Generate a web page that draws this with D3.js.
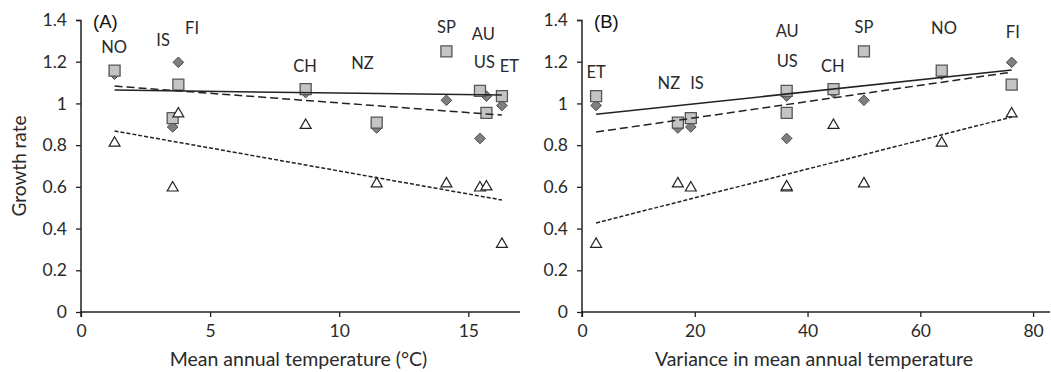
<!DOCTYPE html>
<html><head><meta charset="utf-8">
<script src="https://cdn.jsdelivr.net/npm/d3@7"></script>
<style>
body{margin:0;background:#fff;}
svg{display:block;}
</style></head>
<body>
<svg id="chart" width="1051" height="372"></svg>
<script>
// ---------- data ----------
const countries   = ["NO","IS","FI","CH","NZ","SP","AU","US","ET"];
const temperature = [1.3, 3.55, 3.77, 8.7, 11.45, 14.15, 15.45, 15.7, 16.3];
const variance    = [63.8, 19.3, 76.2, 44.6, 17.0, 50.0, 36.3, 36.3, 2.5];
const squareVals   = [1.157, 0.93, 1.09, 1.069, 0.908, 1.25, 1.06, 0.955, 1.035];
const diamondVals  = [1.14, 0.887, 1.197, 1.052, 0.882, 1.015, 0.832, 1.035, 0.99];
const triangleVals = [0.815, 0.60, 0.955, 0.90, 0.62, 0.62, 0.60, 0.605, 0.33];

// trend lines [x0, y0, x1, y1]
const trendA = { square:[1.3,1.064,16.3,1.04], diamond:[1.3,1.083,16.3,0.944], triangle:[1.3,0.868,16.3,0.537] };
const trendB = { square:[2.5,0.948,76.2,1.16], diamond:[2.5,0.863,76.2,1.15], triangle:[2.5,0.427,76.2,0.935] };

// country label anchors (x value, growth-rate value at baseline)
const labelAx = [1.28, 3.18, 4.3, 8.68, 10.9, 14.15, 15.58, 15.62, 16.59];
const labelAy = [1.242, 1.275, 1.333, 1.15, 1.165, 1.337, 1.304, 1.17, 1.15];
const labelBx = [64.2, 20.4, 76.4, 44.5, 15.4, 50.0, 36.4, 36.4, 2.5];
const labelBy = [1.333, 1.069, 1.313, 1.15, 1.069, 1.337, 1.318, 1.175, 1.122];

const yTicks = [0, 0.2, 0.4, 0.6, 0.8, 1, 1.2, 1.4];
const xTicksA = [0, 5, 10, 15];
const xTicksB = [0, 20, 40, 60, 80];

// ---------- drawing ----------
const svg = d3.select("#chart");
const FONT = "Lato, 'Open Sans', sans-serif";

const y = d3.scaleLinear().domain([0, 1.4]).range([312, 20]);

function panel(opts){
  const x = d3.scaleLinear().domain(opts.xDomain).range(opts.xRange);
  const g = svg.append("g");
  const x0 = opts.xRange[0];

  // axes
  const yAxis = d3.axisLeft(y).tickValues(yTicks).tickSize(5).tickPadding(9)
    .tickFormat(d => d === 0 ? "0" : (d === 1 ? "1" : d3.format(".1f")(d)));
  const ya = g.append("g").attr("transform", `translate(${x0},0)`).call(yAxis);
  const xAxis = d3.axisBottom(x).tickValues(opts.xTicks).tickSize(5).tickPadding(8).tickFormat(d3.format("d"));
  const xa = g.append("g").attr("transform", `translate(0,312)`).call(xAxis);
  [ya, xa].forEach(a => {
    a.select(".domain").attr("stroke", "#222").attr("stroke-width", 1.5);
    a.selectAll(".tick line").attr("stroke", "#222").attr("stroke-width", 1.3);
    a.selectAll("text").attr("font-family", FONT).attr("font-size", 17.5).attr("fill", "#2a2a2a");
  });
  ya.select(".domain").attr("d", `M-5,20.5H0V312`);
  xa.select(".domain").attr("d", `M${x0},5V0H${opts.xRange[1]}`);

  // markers: diamonds, then squares, then triangles
  const xs = opts.xVals;
  const dia = d3.symbol().type(d3.symbolDiamond2).size(72);
  g.append("g").selectAll("path").data(diamondVals).join("path")
    .attr("d", dia)
    .attr("transform", (d,i) => `translate(${x(xs[i])},${y(d)})`)
    .attr("fill", "#7f7f7f").attr("stroke", "#4a4a4a").attr("stroke-width", 1);
  const sq = d3.symbol().type(d3.symbolSquare).size(121);
  g.append("g").selectAll("path").data(squareVals).join("path")
    .attr("d", sq)
    .attr("transform", (d,i) => `translate(${x(xs[i])},${y(d)})`)
    .attr("fill", "#c4c4c4").attr("stroke", "#555").attr("stroke-width", 1.3);
  const tri = d3.symbol().type(d3.symbolTriangle2).size(85);
  g.append("g").selectAll("path").data(triangleVals).join("path")
    .attr("d", tri)
    .attr("transform", (d,i) => `translate(${x(xs[i])},${y(d)+1})`)
    .attr("fill", "#fff").attr("stroke", "#222").attr("stroke-width", 1.2);

  // trend lines
  const styles = { square: null, diamond: "8,4", triangle: "4,2" };
  Object.keys(opts.trend).forEach(k => {
    const t = opts.trend[k];
    g.append("line")
      .attr("x1", x(t[0])).attr("y1", y(t[1]))
      .attr("x2", x(t[2])).attr("y2", y(t[3]))
      .attr("stroke", "#222").attr("stroke-width", 1.5)
      .attr("stroke-dasharray", styles[k]);
  });

  // country labels
  g.append("g").selectAll("text").data(countries).join("text")
    .attr("x", (d,i) => x(opts.lx[i]))
    .attr("y", (d,i) => y(opts.ly[i]))
    .attr("text-anchor", "middle")
    .attr("font-family", FONT).attr("font-size", 16.5).attr("fill", "#2a2a2a")
    .text(d => d);

  // panel title
  g.append("text").attr("x", x0 + 12).attr("y", 28)
    .attr("font-family", "'Liberation Sans', Arial, sans-serif").attr("font-size", 18.5).attr("fill", "#111")
    .text(opts.title);

  // x axis title
  g.append("text").attr("x", (opts.xRange[0] + opts.xRange[1]) / 2 - 2).attr("y", 366)
    .attr("text-anchor", "middle")
    .attr("font-family", FONT).attr("font-size", 19.5).attr("fill", "#2a2a2a")
    .text(opts.xTitle);
}

panel({ xDomain:[0,17], xRange:[81,520], xTicks:xTicksA, xVals:temperature, trend:trendA,
        lx:labelAx, ly:labelAy, title:"(A)", xTitle:"Mean annual temperature (°C)" });
panel({ xDomain:[0,83], xRange:[582,1050], xTicks:xTicksB, xVals:variance, trend:trendB,
        lx:labelBx, ly:labelBy, title:"(B)", xTitle:"Variance in mean annual temperature" });

svg.append("text")
  .attr("transform", "translate(26,166) rotate(-90)")
  .attr("text-anchor", "middle")
  .attr("font-family", FONT).attr("font-size", 19).attr("fill", "#2a2a2a")
  .text("Growth rate");
</script>
</body></html>
